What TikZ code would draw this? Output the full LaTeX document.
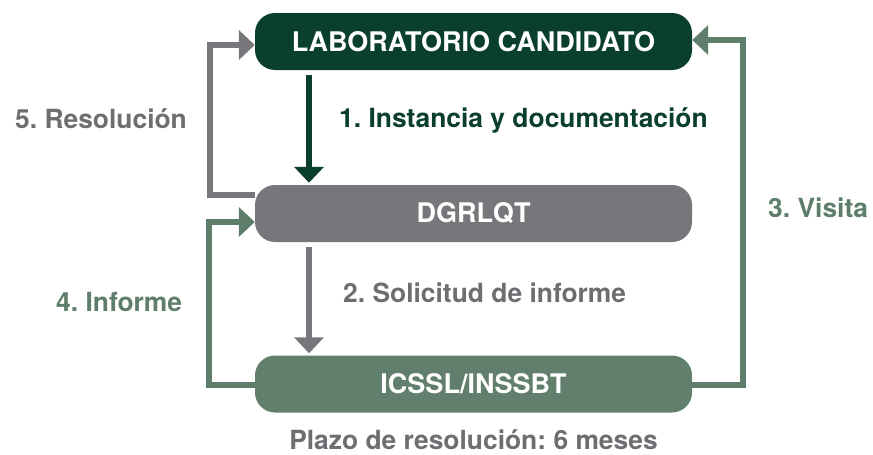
\documentclass[tikz,border=0pt]{standalone}
\usepackage{fontspec}
\setmainfont{TeX Gyre Heros}
\usetikzlibrary{arrows.meta}
\definecolor{dkgreen}{HTML}{0B3F2D}
\definecolor{greybox}{HTML}{77777B}
\definecolor{greytext}{HTML}{6D6E71}
\definecolor{greenbox}{HTML}{627F6E}
\definecolor{greenline}{HTML}{5E7D6B}
\frenchspacing
\tikzset{
  box/.style={rounded corners=20pt, minimum width=437pt, minimum height=57pt, inner sep=0pt,
    text=white, font=\fontsize{27}{32}\selectfont\bfseries},
  lbl/.style={font=\fontsize{26.4}{32}\selectfont\bfseries, inner sep=0pt, anchor=base west},
  conn/.style={line width=6pt, -{Triangle[width=29pt,length=16pt]}},
}
\begin{document}
\begin{tikzpicture}[x=1pt,y=-1pt]
\useasboundingbox (0,0) rectangle (873,455);
\node[box, fill=dkgreen] (lab) at (473.5,41.5) {LABORATORIO CANDIDATO};
\node[box, fill=greybox] (dg) at (473.5,213.5) {DGRLQT};
\node[box, fill=greenbox] (ic) at (473.5,384) {ICSSL/INSSBT};
\coordinate (col) at (309,0);
% 1
\draw[conn, dkgreen, shorten <=5pt, shorten >=2pt] (lab.south -| col) -- (dg.north -| col);
% 2
\draw[conn, greybox, shorten <=5pt, shorten >=2pt] (dg.south -| col) -- (ic.north -| col);
% 5
\draw[conn, greybox] ([yshift=18.5pt]dg.west) -- ++(-45,0) |- ([yshift=-3.5pt]lab.west);
% 4
\draw[conn, greenline] ([yshift=-1pt]ic.west) -- ++(-46,0) |- ([yshift=-8.5pt]dg.west);
% 3
\draw[conn, greenline] ([yshift=-1pt]ic.east) -- ++(51,0) |- ([yshift=1.5pt]lab.east);
% labels
\node[lbl, text=greytext] (l5) at (15,128) {5. Resolución};
\node[lbl, text=dkgreen] (l1) at (339,127) {1. Instancia y documentación};
\node[lbl, text=greenline] (l3) at (768,217) {3. Visita};
\node[lbl, text=greenline] (l4) at (56,311) {4. Informe};
\node[lbl, text=greytext] (l2) at (343,302) {2. Solicitud de informe};
\node[lbl, text=greytext, anchor=base] (l6) at (473.5,449) {Plazo de resolución: 6 meses};
\end{tikzpicture}
\end{document}
